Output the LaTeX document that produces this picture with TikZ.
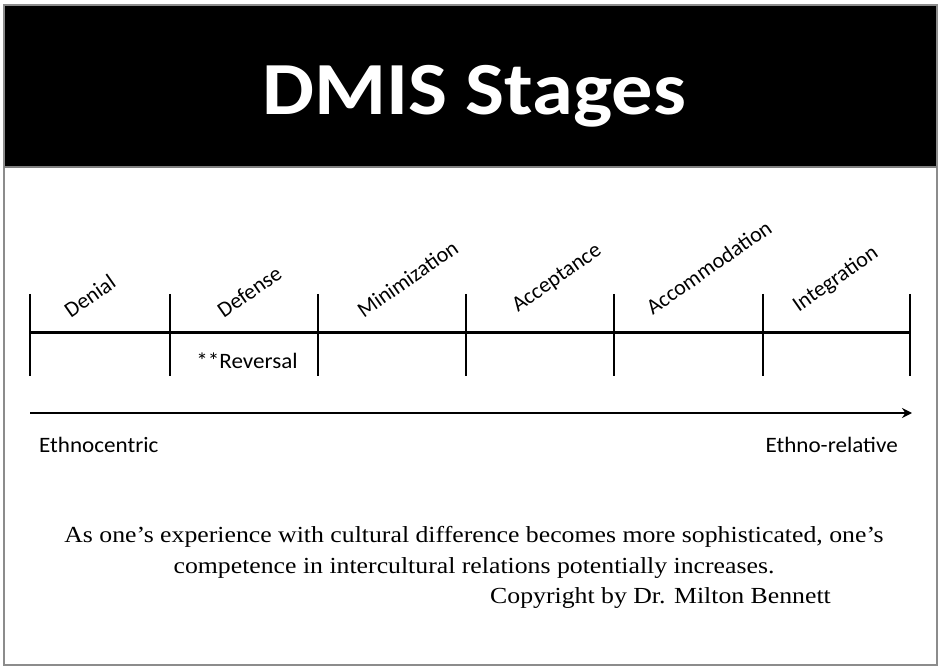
\documentclass[tikz,border=0pt]{standalone}
\usepackage{fontspec}
\setmainfont{Liberation Serif}
\newfontfamily\calib{Carlito}
\usetikzlibrary{arrows.meta}
\tikzset{
  tick/.style={line width=2.6pt, black},
  axis/.style={line width=3pt, black},
  stagelbl/.style={font=\calib\fontsize{22}{24}\selectfont, rotate=35, anchor=south west, inner sep=0pt},
  sidelbl/.style={font=\calib\fontsize{22}{24}\selectfont, inner sep=0pt, xscale=1.05},
  body/.style={font=\fontsize{23}{26}\selectfont, inner sep=0pt, xscale=1.12}
}
\begin{document}
\begin{tikzpicture}[x=1pt,y=-1pt]
\useasboundingbox (0,0) rectangle (940,668);
\fill[white] (0,0) rectangle (940,668);
\fill[black] (4,5) rectangle (937,167);
\draw[line width=2pt, gray!90] (4,5) rectangle (937,665);
\draw[line width=1.2pt, gray] (4,167) -- (937,167);
\node[font=\calib\bfseries\fontsize{75}{80}\selectfont, text=white, anchor=base, xscale=1.1, inner sep=0pt] (title) at (474,115) {DMIS Stages};
% ticks
\foreach \n/\x in {t0/30,t1/170,t2/318,t3/466,t4/614,t5/763,t6/910}{
  \coordinate (\n top) at (\x,294);
  \coordinate (\n bot) at (\x,376);
  \coordinate (\n) at (\x,333);
  \draw[tick] (\n top) -- (\n bot);
}
\draw[axis] (t0) -- (t6);
\node[stagelbl] (denial) at (71,319) {Denial};
\node[stagelbl] (defense) at (224,319) {Defense};
\node[stagelbl] (minim) at (364,319) {Minimization};
\node[stagelbl] (accept) at (520,316) {Acceptance};
\node[stagelbl] (accom) at (653,316) {Accommodation};
\node[stagelbl] (integ) at (801,316) {Integration};
\node[sidelbl, anchor=base] (rev) at (247,369) {**Reversal};
% arrow
\coordinate (a0) at (30,413);
\coordinate (a1) at (912,413);
\draw[line width=2.6pt, -{Stealth[length=10pt,width=10pt]}] (a0) -- (a1);
\node[sidelbl, anchor=base west] (ethnoc) at (39,452) {Ethnocentric};
\node[sidelbl, anchor=base east] (ethnor) at (898,452) {Ethno-relative};
\node[body, anchor=base] (line1) at (474,542) {As one's experience with cultural difference becomes more sophisticated, one's};
\node[body, anchor=base] (line2) at (474,573) {competence in intercultural relations potentially increases.};
\node[body, anchor=base west] (copy) at (490,603) {Copyright by Dr. Milton Bennett};
\end{tikzpicture}
\end{document}
